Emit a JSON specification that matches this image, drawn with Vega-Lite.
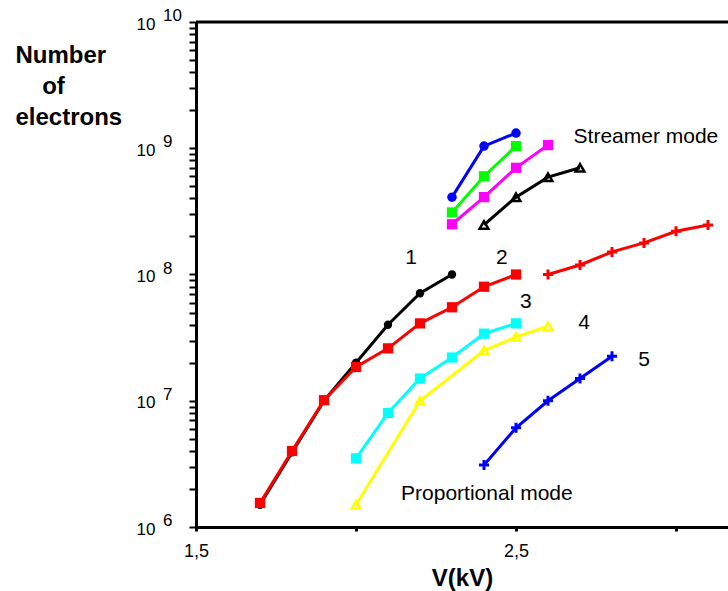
{
  "$schema": "https://vega.github.io/schema/vega-lite/v6.json",
  "width": 532,
  "height": 505,
  "autosize": {"type": "none"},
  "padding": {"left": 196, "top": 22, "right": 0, "bottom": 64},
  "background": "white",
  "config": {"view": {"stroke": null}, "font": "Liberation Sans"},
  "datasets": {
    "pts": [
      {"s": "1", "v": 1.7, "n": 1.5e6}, {"s": "1", "v": 1.8, "n": 3.9e6}, {"s": "1", "v": 1.9, "n": 1.0e7}, {"s": "1", "v": 2.0, "n": 2.0e7}, {"s": "1", "v": 2.1, "n": 4.0e7}, {"s": "1", "v": 2.2, "n": 7.1e7}, {"s": "1", "v": 2.3, "n": 1.0e8},
      {"s": "2", "v": 1.7, "n": 1.55e6}, {"s": "2", "v": 1.8, "n": 4.0e6}, {"s": "2", "v": 1.9, "n": 1.01e7}, {"s": "2", "v": 2.0, "n": 1.85e7}, {"s": "2", "v": 2.1, "n": 2.6e7}, {"s": "2", "v": 2.2, "n": 4.1e7}, {"s": "2", "v": 2.3, "n": 5.5e7}, {"s": "2", "v": 2.4, "n": 8.0e7}, {"s": "2", "v": 2.5, "n": 1.0e8},
      {"s": "3", "v": 2.0, "n": 3.5e6}, {"s": "3", "v": 2.1, "n": 8.0e6}, {"s": "3", "v": 2.2, "n": 1.5e7}, {"s": "3", "v": 2.3, "n": 2.2e7}, {"s": "3", "v": 2.4, "n": 3.4e7}, {"s": "3", "v": 2.5, "n": 4.1e7},
      {"s": "4", "v": 2.0, "n": 1.5e6}, {"s": "4", "v": 2.2, "n": 1.0e7}, {"s": "4", "v": 2.4, "n": 2.5e7}, {"s": "4", "v": 2.5, "n": 3.2e7}, {"s": "4", "v": 2.6, "n": 3.9e7},
      {"s": "5", "v": 2.4, "n": 3.1e6}, {"s": "5", "v": 2.5, "n": 6.1e6}, {"s": "5", "v": 2.6, "n": 1.0e7}, {"s": "5", "v": 2.7, "n": 1.5e7}, {"s": "5", "v": 2.8, "n": 2.25e7},
      {"s": "s1", "v": 2.3, "n": 4.1e8}, {"s": "s1", "v": 2.4, "n": 1.04e9}, {"s": "s1", "v": 2.5, "n": 1.32e9},
      {"s": "s2", "v": 2.3, "n": 3.1e8}, {"s": "s2", "v": 2.4, "n": 6.0e8}, {"s": "s2", "v": 2.5, "n": 1.04e9},
      {"s": "s3", "v": 2.3, "n": 2.5e8}, {"s": "s3", "v": 2.4, "n": 4.1e8}, {"s": "s3", "v": 2.5, "n": 7.0e8}, {"s": "s3", "v": 2.6, "n": 1.06e9},
      {"s": "s4", "v": 2.4, "n": 2.47e8}, {"s": "s4", "v": 2.5, "n": 4.1e8}, {"s": "s4", "v": 2.6, "n": 5.9e8}, {"s": "s4", "v": 2.7, "n": 7.0e8},
      {"s": "s5", "v": 2.6, "n": 1.0e8}, {"s": "s5", "v": 2.7, "n": 1.19e8}, {"s": "s5", "v": 2.8, "n": 1.51e8}, {"s": "s5", "v": 2.9, "n": 1.78e8}, {"s": "s5", "v": 3.0, "n": 2.2e8}, {"s": "s5", "v": 3.1, "n": 2.47e8}
    ],
    "labels": [
      {"v": 2.172, "n": 1.35e8, "t": "1"},
      {"v": 2.456, "n": 1.35e8, "t": "2"},
      {"v": 2.531, "n": 6.05e7, "t": "3"},
      {"v": 2.7125, "n": 4.13e7, "t": "4"},
      {"v": 2.9, "n": 2.1e7, "t": "5"},
      {"v": 2.906, "n": 1.23e9, "t": "Streamer mode"},
      {"v": 2.409, "n": 1.82e6, "t": "Proportional mode"}
    ],
    "exps": [
      {"v": 1.5, "n": 1e6, "e": "6"},
      {"v": 1.5, "n": 1e7, "e": "7"},
      {"v": 1.5, "n": 1e8, "e": "8"},
      {"v": 1.5, "n": 1e9, "e": "9"},
      {"v": 1.5, "n": 1e10, "e": "10"}
    ],
    "top": [{"v": 1.5, "v2": 3.1625, "n": 1e10}]
  },
  "encoding": {
    "x": {
      "field": "v", "type": "quantitative",
      "scale": {"domain": [1.5, 3.1625], "nice": false, "zero": false},
      "axis": {
        "values": [1.5, 2, 2.5, 3],
        "labelExpr": "datum.value == 1.5 ? '1,5' : (datum.value == 2.5 ? '2,5' : '')",
        "grid": false, "domainColor": "black", "domainWidth": 3,
        "tickColor": "black", "tickWidth": 3, "tickSize": 4,
        "labelFont": "Liberation Sans", "labelFontSize": 18, "labelColor": "black",
        "labelPadding": 11, "labelFlush": false, "labelOverlap": false,
        "title": "V(kV)", "titleFont": "Liberation Sans", "titleFontSize": 24, "titleFontWeight": "bold",
        "titleColor": "black", "titleBaseline": "alphabetic", "titleY": 58
      }
    },
    "y": {
      "field": "n", "type": "quantitative",
      "scale": {"type": "log", "domain": [1e6, 1e10], "nice": false},
      "axis": {
        "values": [1e6, 2e6, 3e6, 4e6, 5e6, 6e6, 7e6, 8e6, 9e6, 1e7, 2e7, 3e7, 4e7, 5e7, 6e7, 7e7, 8e7, 9e7, 1e8, 2e8, 3e8, 4e8, 5e8, 6e8, 7e8, 8e8, 9e8, 1e9, 2e9, 3e9, 4e9, 5e9, 6e9, 7e9, 8e9, 9e9, 1e10],
        "labelExpr": "indexof([1000000, 10000000, 100000000, 1000000000, 10000000000], datum.value) >= 0 ? '10' : ''",
        "grid": false, "domainColor": "black", "domainWidth": 3,
        "tickColor": "black", "tickWidth": 2, "tickSize": 7,
        "labelFont": "Liberation Sans", "labelFontSize": 17, "labelColor": "black",
        "labelPadding": 34, "labelOverlap": false, "labelBaseline": "middle", "labelOffset": 2,
        "title": ["Number", "\u200b\u00a0\u00a0\u00a0\u00a0of", "electrons"],
        "titleFont": "Liberation Sans", "titleFontSize": 24, "titleFontWeight": "bold", "titleColor": "black",
        "titleAngle": 0, "titleAlign": "left", "titleBaseline": "alphabetic",
        "titleX": -181, "titleY": 40, "titleLineHeight": 31
      }
    }
  },
  "layer": [
    {
      "data": {"name": "top"},
      "mark": {"type": "rule", "color": "black", "strokeWidth": 3},
      "encoding": {"x2": {"field": "v2"}}
    },
    {
      "data": {"name": "pts"},
      "mark": {"type": "line", "strokeWidth": 3},
      "encoding": {
        "color": {"field": "s", "type": "nominal", "legend": null,
          "scale": {"domain": ["1", "2", "3", "4", "5", "s1", "s2", "s3", "s4", "s5"],
                    "range": ["#000000", "#FF0000", "#00FFFF", "#FFFF00", "#0000FF", "#0000FF", "#00FF00", "#FF00FF", "#000000", "#FF0000"]}}
      }
    },
    {
      "data": {"name": "pts"},
      "transform": [{"filter": "datum.s == '1'"}],
      "mark": {"type": "point", "shape": "circle", "filled": true, "opacity": 1, "size": 70},
      "encoding": {"color": {"field": "s", "type": "nominal", "legend": null}}
    },
    {
      "data": {"name": "pts"},
      "transform": [{"filter": "indexof(['2','3','s2','s3'], datum.s) >= 0"}],
      "mark": {"type": "point", "shape": "square", "filled": true, "opacity": 1, "size": 105},
      "encoding": {"color": {"field": "s", "type": "nominal", "legend": null}}
    },
    {
      "data": {"name": "pts"},
      "transform": [{"filter": "datum.s == 's1'"}],
      "mark": {"type": "point", "shape": "circle", "filled": true, "opacity": 1, "size": 90},
      "encoding": {"color": {"field": "s", "type": "nominal", "legend": null}}
    },
    {
      "data": {"name": "pts"},
      "transform": [{"filter": "datum.s == '4' || datum.s == 's4'"}],
      "mark": {"type": "point", "shape": "triangle-up", "filled": false, "opacity": 1, "size": 75, "strokeWidth": 2.5},
      "encoding": {"color": {"field": "s", "type": "nominal", "legend": null}}
    },
    {
      "data": {"name": "pts"},
      "transform": [{"filter": "datum.s == '5' || datum.s == 's5'"}],
      "mark": {"type": "point", "shape": "M0,-1L0,1M-1,0L1,0", "filled": false, "opacity": 1, "size": 100, "strokeWidth": 3},
      "encoding": {"color": {"field": "s", "type": "nominal", "legend": null}}
    },
    {
      "data": {"name": "labels"},
      "mark": {"type": "text", "font": "Liberation Sans", "fontSize": 21, "color": "black", "align": "center", "baseline": "middle"},
      "encoding": {"text": {"field": "t"}}
    },
    {
      "data": {"name": "exps"},
      "mark": {"type": "text", "font": "Liberation Sans", "fontSize": 17, "color": "black", "align": "left", "baseline": "middle", "dx": -33, "dy": -6},
      "encoding": {"text": {"field": "e"}}
    }
  ]
}
